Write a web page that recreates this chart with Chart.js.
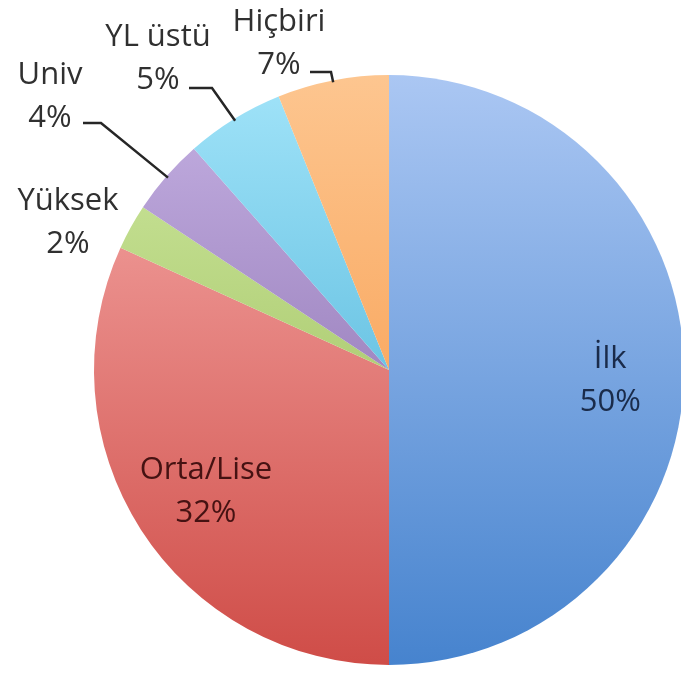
<!DOCTYPE html>
<html>
<head>
<meta charset="utf-8">
<script src="https://cdn.jsdelivr.net/npm/chart.js@4/dist/chart.umd.min.js"></script>
<style>
  html, body { margin: 0; padding: 0; background: #fff; overflow: hidden; }
  #wrap { width: 681px; height: 673px; overflow: hidden; position: relative; }
  #grafico { position: absolute; left: 0; top: 0; }
</style>
</head>
<body>
<div id="wrap"><canvas id="grafico" width="778" height="673"></canvas></div>
<script>
// datos del grafico (tamaños)
const categorias = ['İlk', 'Orta/Lise', 'Yüksek', 'Univ', 'YL üstü', 'Hiçbiri'];
const valores = [50, 31.8, 2.5, 4.2, 5.4, 6.1];
const etiquetas = ['50%', '32%', '2%', '4%', '5%', '7%'];

// colores: claro arriba, oscuro abajo
const coloresArriba = ['#abc7f3', '#f7aeac', '#d0eaa2', '#c6b2e4', '#a2e4f9', '#fdc690'];
const coloresAbajo = ['#4683ce', '#cf4c47', '#92b44d', '#7b5da0', '#36a5cf', '#f6903a'];

// centro de cada bloque de texto y linea guia
const posEtiquetas = [
  { dentro: true, r: 0.75, dx: 0, dy: 10 },
  { dentro: true, r: 0.75, dx: 3, dy: 1 },
  { x: 68, y: 222 },
  { x: 50, y: 96, guia: [[83, 123], [101, 123]] },
  { x: 158, y: 58, guia: [[189, 88], [212, 88]] },
  { x: 279, y: 43, guia: [[310, 72], [331, 72]] }
];

const pluginEtiquetas = {
  id: 'etiquetas',
  afterDatasetsDraw(chart) {
    const ctx = chart.ctx;
    const arcs = chart.getDatasetMeta(0).data;
    ctx.save();
    ctx.font = '31px "Open Sans"';
    ctx.textAlign = 'center';
    ctx.textBaseline = 'middle';
    arcs.forEach((arc, i) => {
      const p = arc.getProps(['x', 'y', 'startAngle', 'endAngle', 'outerRadius']);
      const medio = (p.startAngle + p.endAngle) / 2;
      const pos = posEtiquetas[i];
      let cx, cy;
      if (pos.dentro) {
        cx = p.x + Math.cos(medio) * p.outerRadius * pos.r + pos.dx;
        cy = p.y + Math.sin(medio) * p.outerRadius * pos.r + pos.dy;
        ctx.fillStyle = i === 0 ? '#1a2b4a' : '#451212';
      } else {
        cx = pos.x;
        cy = pos.y;
        ctx.fillStyle = '#303030';
        if (pos.guia) {
          const fx = p.x + Math.cos(medio) * (p.outerRadius - 2);
          const fy = p.y + Math.sin(medio) * (p.outerRadius - 2);
          ctx.strokeStyle = '#262626';
          ctx.lineWidth = 2.5;
          ctx.beginPath();
          ctx.moveTo(pos.guia[0][0], pos.guia[0][1]);
          ctx.lineTo(pos.guia[1][0], pos.guia[1][1]);
          ctx.lineTo(fx, fy);
          ctx.stroke();
        }
      }
      ctx.fillText(categorias[i], cx, cy - 21);
      ctx.fillText(etiquetas[i], cx, cy + 22);
    });
    ctx.restore();
  }
};

const getGrafic = document.getElementById('grafico').getContext('2d');
const myChart = new Chart(getGrafic, {
  type: 'pie',
  data: {
    labels: categorias,
    datasets: [{
      data: valores,
      backgroundColor: (c) => {
        const area = c.chart.chartArea;
        if (!area) return coloresAbajo[c.dataIndex];
        const g = c.chart.ctx.createLinearGradient(0, area.top, 0, area.bottom);
        g.addColorStop(0, coloresArriba[c.dataIndex]);
        g.addColorStop(1, coloresAbajo[c.dataIndex]);
        return g;
      },
      borderWidth: 0
    }]
  },
  options: {
    responsive: false,
    animation: false,
    devicePixelRatio: 1,
    layout: { padding: { top: 73, bottom: 6, left: 94, right: 94 } },
    plugins: {
      legend: { display: false },
      tooltip: { enabled: false }
    }
  },
  plugins: [pluginEtiquetas]
});
</script>
</body>
</html>
